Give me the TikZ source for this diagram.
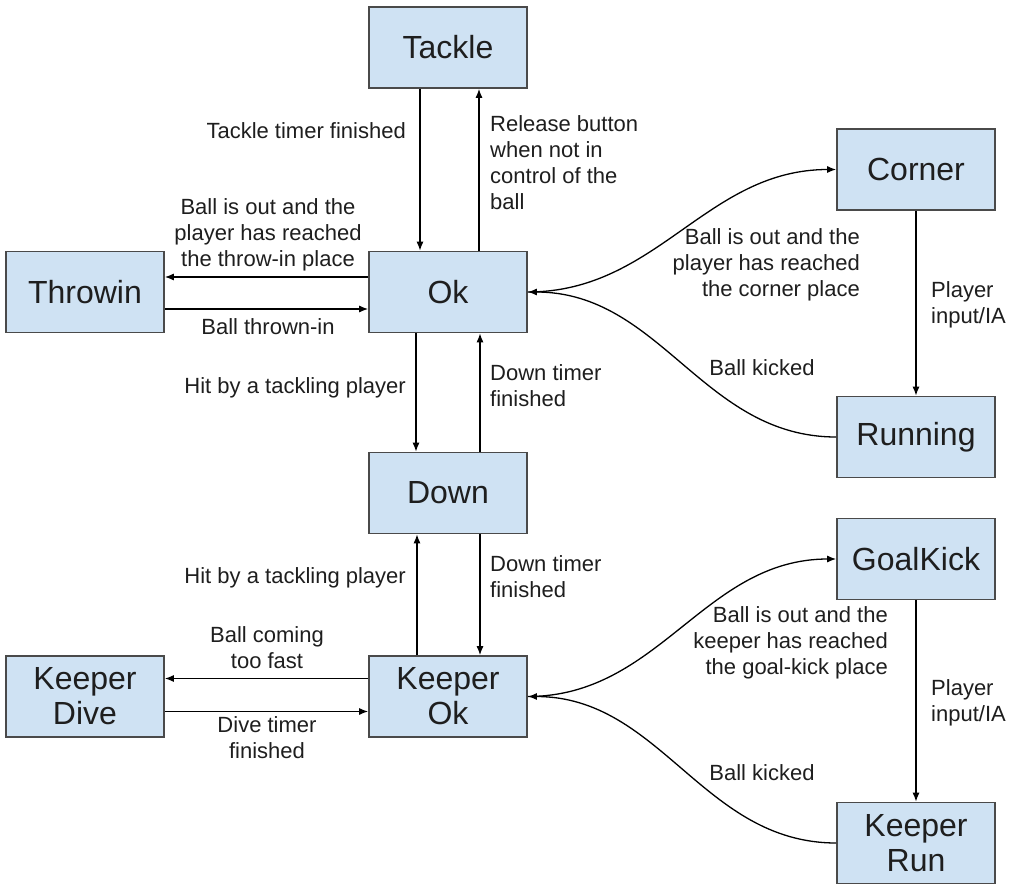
\documentclass[tikz,border=0pt]{standalone}
\usepackage{fontspec}
\setmainfont{Liberation Sans}
\usetikzlibrary{arrows.meta}
\definecolor{boxfill}{HTML}{CFE2F3}
\definecolor{boxdraw}{HTML}{4A4A4A}
\definecolor{ink}{HTML}{1E1E1E}
\begin{document}
\begin{tikzpicture}[x=1pt,y=-1pt,
  state/.style={draw=boxdraw, line width=1.6pt, fill=boxfill, minimum width=158pt,
    minimum height=81pt, inner sep=0pt, align=center,
    font=\fontsize{32}{35}\selectfont, text=ink},
  lbl/.style={font=\fontsize{22}{26}\selectfont, text=ink, inner sep=0pt},
  tr/.style={draw=black, line width=1.3pt, -{Latex[length=9pt,width=7pt]}}]
\useasboundingbox (0,0) rectangle (1017,885);

% states
\node[state] (tackle)  at (448,47.5)  {Tackle};
\node[state] (throwin) at (85,292)    {Throwin};
\node[state] (ok)      at (448,292)   {Ok};
\node[state] (corner)  at (916,169.5) {Corner};
\node[state] (running) at (916,437)   {Running};
\node[state] (down)    at (448,493)   {Down};
\node[state] (goalkick) at (916,559)  {GoalKick};
\node[state] (kdive)   at (85,696.5)  {Keeper\\Dive};
\node[state] (kok)     at (448,696.5) {Keeper\\Ok};
\node[state] (krun)    at (916,843)   {Keeper\\Run};

% transitions
\draw[tr] ([xshift=-28pt]tackle.south) -- ([xshift=-28pt]ok.north);
\draw[tr] ([xshift=31pt]ok.north) -- ([xshift=31pt]tackle.south);
\draw[tr] ([yshift=15pt]ok.west) -- ([yshift=15pt]throwin.east);
\draw[tr] ([yshift=-17pt]throwin.east) -- ([yshift=-17pt]ok.west);
\draw[tr] ([xshift=-32pt]ok.south) -- ([xshift=-32pt]down.north);
\draw[tr] ([xshift=32pt]down.north) -- ([xshift=32pt]ok.south);
\draw[tr] ([xshift=32pt]down.south) -- ([xshift=32pt]kok.north);
\draw[tr] ([xshift=-31pt]kok.north) -- ([xshift=-31pt]down.south);
\draw[tr] ([yshift=18pt]kok.west) -- ([yshift=18pt]kdive.east);
\draw[tr] ([yshift=-15pt]kdive.east) -- ([yshift=-15pt]kok.west);
\draw[tr] (corner.south) -- (running.north);
\draw[tr] (goalkick.south) -- (krun.north);
\draw[tr] (ok.east) to[out=0,in=180] (corner.west);
\draw[tr] (running.west) to[out=180,in=0] (ok.east);
\draw[tr] (kok.east) to[out=0,in=180] (goalkick.west);
\draw[tr] (krun.west) to[out=180,in=0] (kok.east);

% labels
\node[lbl, anchor=east] (l1) at (406,131) {Tackle timer finished};
\node[lbl, anchor=west, align=left] (l2) at (490,163) {Release button\\when not in\\control of the\\ball};
\node[lbl, align=center] (l3) at (268,235) {Ball is out and the\\player has reached\\the throw-in place};
\node[lbl] (l4) at (268,327) {Ball thrown-in};
\node[lbl, anchor=east, align=right] (l5) at (860,265) {Ball is out and the\\player has reached\\the corner place};
\node[lbl] (l6) at (762,368) {Ball kicked};
\node[lbl, anchor=west, align=left] (l7) at (931,305) {Player\\input/IA};
\node[lbl, anchor=east] (l8) at (406,388) {Hit by a tackling player};
\node[lbl, anchor=west, align=left] (l9) at (490,386) {Down timer\\finished};
\node[lbl, anchor=east] (l10) at (406,578) {Hit by a tackling player};
\node[lbl, anchor=west, align=left] (l11) at (490,577) {Down timer\\finished};
\node[lbl, align=center] (l12) at (267,648) {Ball coming\\too fast};
\node[lbl, align=center] (l13) at (267,738) {Dive timer\\finished};
\node[lbl, anchor=east, align=right] (l14) at (888,643) {Ball is out and the\\keeper has reached\\the goal-kick place};
\node[lbl] (l15) at (762,773) {Ball kicked};
\node[lbl, anchor=west, align=left] (l16) at (931,703) {Player\\input/IA};
\end{tikzpicture}
\end{document}
